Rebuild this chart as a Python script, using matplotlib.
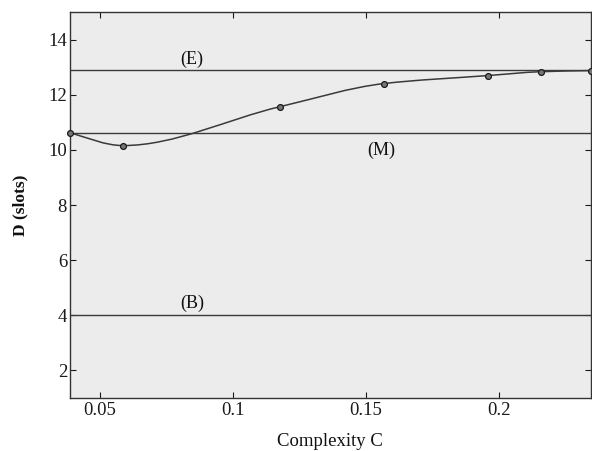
import numpy as np
import matplotlib
matplotlib.use("Agg")
import matplotlib.pyplot as plt
from matplotlib.path import Path
from matplotlib.patches import PathPatch

# Data
complexity = [0.0387, 0.0587, 0.1177, 0.1568, 0.1959, 0.2158, 0.2346]
delay = [10.63, 10.16, 11.57, 12.41, 12.70, 12.84, 12.88]
level_E = 12.9
level_M = 10.63
level_B = 4.03
labels = ["(E)", "(M)", "(B)"]
label_x = [0.0846, 0.1557, 0.0846]
label_y = [13.3, 10.0, 4.45]
xticks = [0.05, 0.1, 0.15, 0.2]
xticklabels = ["0.05", "0.1", "0.15", "0.2"]
yticks = [2, 4, 6, 8, 10, 12, 14]

plt.rcParams['font.family'] = ['Liberation Serif', 'DejaVu Serif']

fig = plt.figure(figsize=(5.92, 4.51), dpi=100, facecolor='white')
ax = fig.add_axes([0.118, 0.1175, 0.880, 0.8555])
ax.set_facecolor('#ececec')
ax.set_xlim(0.0387, 0.2346)
ax.set_ylim(1, 15)

lc = '#3a3a3a'
for lv in (level_E, level_M, level_B):
    ax.axhline(lv, color=lc, lw=1.0)

# smooth shape-preserving curve through the points (PCHIP tangents -> cubic Bezier)
x = np.array(complexity)
y = np.array(delay)
h = np.diff(x)
d = np.diff(y) / h
n = len(x)
m = np.zeros(n)
for k in range(1, n - 1):
    if d[k - 1] * d[k] > 0:
        w1 = 2 * h[k] + h[k - 1]
        w2 = h[k] + 2 * h[k - 1]
        m[k] = (w1 + w2) / (w1 / d[k - 1] + w2 / d[k])
m[0] = d[0] * 1.2
m[-1] = d[-1] * 0.6
verts = [(x[0], y[0])]
codes = [Path.MOVETO]
for i in range(n - 1):
    c1 = (x[i] + h[i] / 3, y[i] + m[i] * h[i] / 3)
    c2 = (x[i + 1] - h[i] / 3, y[i + 1] - m[i + 1] * h[i] / 3)
    verts += [c1, c2, (x[i + 1], y[i + 1])]
    codes += [Path.CURVE4] * 3
ax.add_patch(PathPatch(Path(verts, codes), fill=False, edgecolor=lc, lw=1.1))
ax.plot(complexity, delay, linestyle='none', marker='o', markersize=4.2,
        markerfacecolor='#777777', markeredgecolor='#1a1a1a', markeredgewidth=0.9,
        clip_on=False, zorder=5)

for t, tx, ty in zip(labels, label_x, label_y):
    ax.text(tx, ty, t, fontsize=13, ha='center', va='center', color='#111111')

ax.set_xticks(xticks)
ax.set_xticklabels(xticklabels)
ax.set_yticks(yticks)
ax.tick_params(direction='in', length=4, width=0.8, top=True, right=True,
               labelsize=13.5, colors='#1a1a1a', pad=3)
ax.tick_params(axis='y', pad=2)
for s in ax.spines.values():
    s.set_color('#333333')
    s.set_linewidth(1.0)

ax.set_xlabel('Complexity C', fontsize=13.5, labelpad=10, color='#111111')
ax.set_ylabel('D (slots)', fontsize=12.5, fontweight='bold', labelpad=14, color='#111111')

fig.savefig('out.png', dpi=100, facecolor='white')
